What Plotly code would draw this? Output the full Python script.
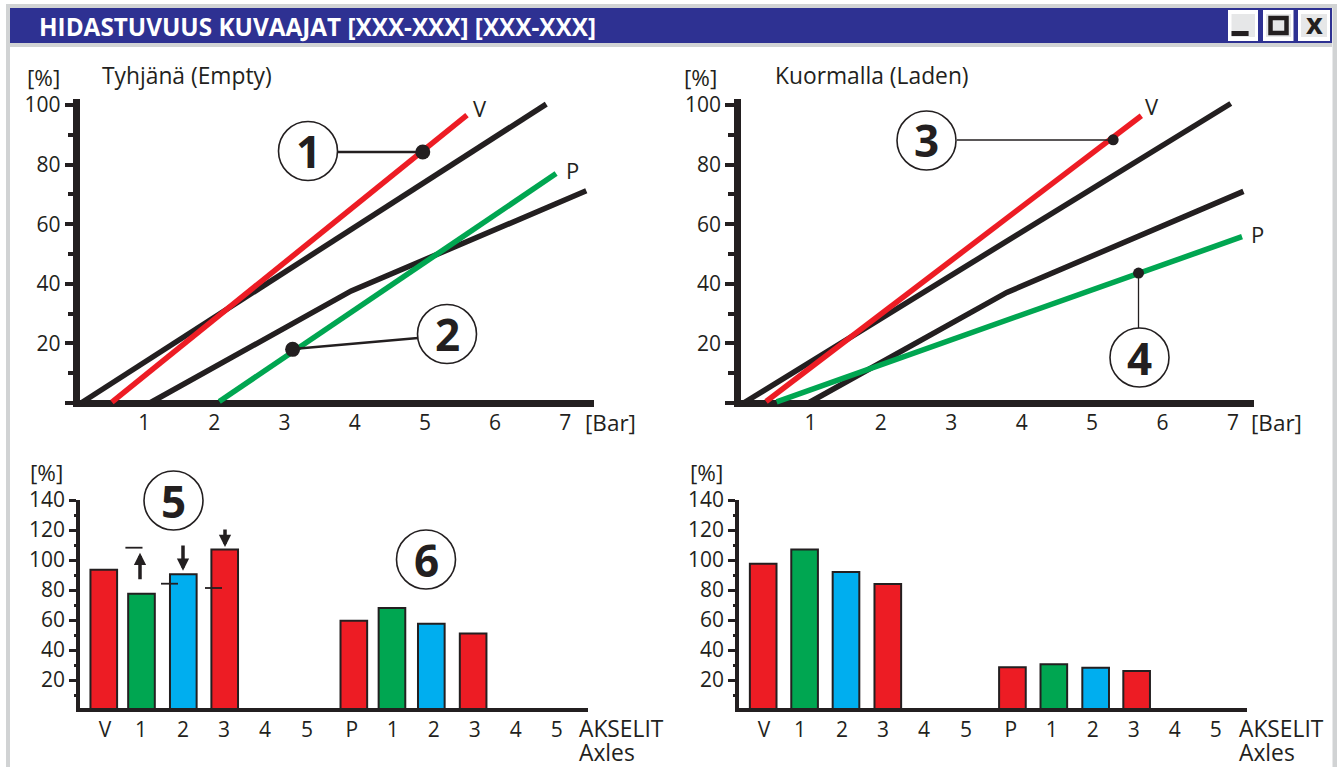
import plotly.graph_objects as go

# ---------- data ----------
title_text = "HIDASTUVUUS KUVAAJAT [XXX-XXX] [XXX-XXX]"
bar_ticks = [1, 2, 3, 4, 5, 6, 7]
pct_ticks = [0, 20, 40, 60, 80, 100]
pct_labels = ["", "20", "40", "60", "80", "100"]
pct_minor = [10, 30, 50, 70, 90]
bar_pct_ticks = [20, 40, 60, 80, 100, 120, 140]
bar_pct_minor = [10, 30, 50, 70, 90, 110, 130]
axle_labels = ["V", "1", "2", "3", "4", "5", "P", "1", "2", "3", "4", "5"]
axle_ticks = [0, 0.88, 1.9, 2.9, 3.9, 4.93, 6.02, 7.02, 8.02, 9.02, 10.02, 11.02]

empty_black1_x = [0.10, 6.73]
empty_black1_y = [0, 100.3]
empty_black2_x = [1.08, 3.95, 7.30]
empty_black2_y = [0, 37.6, 71.2]
empty_red_x = [0.54, 5.60]
empty_red_y = [0.3, 96.6]
empty_green_x = [2.07, 6.87]
empty_green_y = [0.5, 77.0]
empty_dots_x = [4.97, 3.115]
empty_dots_y = [84.2, 18.0]

laden_black1_x = [0.05, 6.97]
laden_black1_y = [0, 100.5]
laden_black2_x = [0.97, 3.79, 7.15]
laden_black2_y = [0, 37.1, 71.0]
laden_red_x = [0.37, 5.70]
laden_red_y = [0.5, 96.4]
laden_green_x = [0.52, 7.13]
laden_green_y = [0.4, 55.8]
laden_dots_x = [5.30, 5.66]
laden_dots_y = [88.3, 43.6]

left_bar_x = [-0.03, 0.89, 1.91, 2.92, 6.07, 7.0, 7.96, 8.98]
left_bar_y = [93.5, 77.5, 90.5, 107, 59.5, 68, 57.5, 51]
right_bar_x = [-0.02, 0.99, 2.0, 3.02, 6.06, 7.07, 8.09, 9.09]
right_bar_y = [97.5, 107, 92, 84, 28.5, 30.5, 28.2, 26]

# ---------- styles ----------
W, H = 1342, 767
INK = "#231F20"
RED = "#ED1C24"
GREEN = "#00A651"
BLUE = "#00AEEF"
NAVY = "#2E3192"
FRAME = "#D1D3D4"
FONT = "Open Sans"
TICK = 21
TEXT = 22.5
bar_colors = [RED, GREEN, BLUE, RED, RED, GREEN, BLUE, RED]


def xp(v):
    return v / W


def yp(v):
    return 1 - v / H


fig = go.Figure()


def line(x, y, color, ax, width=5.5):
    fig.add_trace(go.Scatter(x=x, y=y, mode="lines", xaxis=f"x{ax}", yaxis=f"y{ax}",
                             line=dict(color=color, width=width), cliponaxis=False,
                             showlegend=False, hoverinfo="skip"))


def dots(x, y, ax, sizes):
    fig.add_trace(go.Scatter(x=x, y=y, mode="markers", xaxis=f"x{ax}", yaxis=f"y{ax}",
                             marker=dict(color=INK, size=sizes), cliponaxis=False,
                             showlegend=False, hoverinfo="skip"))


line(empty_black1_x, empty_black1_y, INK, "")
line(empty_black2_x, empty_black2_y, INK, "")
line(empty_red_x, empty_red_y, RED, "")
line(empty_green_x, empty_green_y, GREEN, "")
dots(empty_dots_x, empty_dots_y, "", 15)

line(laden_black1_x, laden_black1_y, INK, 2)
line(laden_black2_x, laden_black2_y, INK, 2)
line(laden_red_x, laden_red_y, RED, 2)
line(laden_green_x, laden_green_y, GREEN, 2)
dots(laden_dots_x, laden_dots_y, 2, 11)

for bx, by, ax in ((left_bar_x, left_bar_y, 3), (right_bar_x, right_bar_y, 4)):
    fig.add_trace(go.Bar(x=bx, y=by, xaxis=f"x{ax}", yaxis=f"y{ax}", width=0.65,
                         marker=dict(color=bar_colors, line=dict(color=INK, width=2)),
                         showlegend=False, hoverinfo="skip"))


def line_axes(left, right, x_lo, x_hi):
    x = dict(domain=[xp(left), xp(right)], range=[x_lo, x_hi], tickmode="array",
             tickvals=bar_ticks, showgrid=False, showline=False, zeroline=False,
             ticks="", ticklabelstandoff=1, tickfont=dict(family=FONT, size=TICK, color=INK))
    y = dict(domain=[yp(406.5), yp(99)], range=[-1.17, 102], tickmode="array",
             tickvals=pct_ticks, ticktext=pct_labels, showgrid=False, showline=True,
             linecolor=INK, linewidth=6.5, zeroline=True, zerolinecolor=INK, zerolinewidth=6.5,
             ticks="outside", ticklen=9, tickwidth=3.5, tickcolor=INK,
             minor=dict(tickmode="array", tickvals=pct_minor, ticks="outside", ticklen=6,
                        tickwidth=3.5, tickcolor=INK),
             tickfont=dict(family=FONT, size=TICK, color=INK))
    return x, y


def bar_axes(left, right):
    x = dict(domain=[xp(left), xp(right)], range=[-0.61, 11.77], tickmode="array",
             tickvals=axle_ticks, ticktext=axle_labels, showgrid=False, showline=True,
             linecolor=INK, linewidth=3.5, zeroline=False, ticks="",
             tickfont=dict(family=FONT, size=TICK, color=INK))
    y = dict(domain=[yp(708), yp(500)], range=[1.33, 140], tickmode="array",
             tickvals=bar_pct_ticks, showgrid=False, showline=True, linecolor=INK,
             linewidth=3.5, zeroline=False, ticks="outside", ticklen=7, tickwidth=2.5,
             tickcolor=INK,
             minor=dict(tickmode="array", tickvals=bar_pct_minor, ticks="outside", ticklen=2,
                        tickwidth=2.5, tickcolor=INK),
             tickfont=dict(family=FONT, size=TICK, color=INK))
    return x, y


x1, y1 = line_axes(80.4, 594, 0.091, 7.41)
x2, y2 = line_axes(741, 1254, 0.014, 7.30)
x3, y3 = bar_axes(80, 587.5)
x4, y4 = bar_axes(739, 1246.5)
for a, b, n in ((x1, y1, ""), (x2, y2, "2"), (x3, y3, "3"), (x4, y4, "4")):
    a["anchor"] = f"y{n}"
    b["anchor"] = f"x{n}"
    fig.layout[f"xaxis{n}"] = a
    fig.layout[f"yaxis{n}"] = b


# ---------- window chrome and callouts (page furniture) ----------
def rect(x0, y0, x1_, y1_, fill, line_color=None, lw=0):
    return dict(type="rect", xref="paper", yref="paper", x0=xp(x0), x1=xp(x1_),
                y0=yp(y1_), y1=yp(y0), fillcolor=fill,
                line=dict(color=line_color or fill, width=lw), layer="below")


def seg(x0, y0, x1_, y1_, width=2.5, color=INK):
    return dict(type="line", xref="paper", yref="paper", x0=xp(x0), x1=xp(x1_),
                y0=yp(y0), y1=yp(y1_), line=dict(color=color, width=width))


shapes = [
    rect(6, 4, 1337, 767, FRAME),
    rect(10, 8, 1332.5, 767, "white"),
    rect(10, 8, 1332, 43, NAVY),
    rect(10, 43, 1332, 47, FRAME),
    rect(1228, 10, 1258, 41, "white"),
    rect(1231.5, 14, 1255, 37, "#E6E7E8"),
    rect(1231.5, 31, 1248.6, 36, INK),
    rect(1263, 10, 1293.5, 41, "white"),
    rect(1266, 14, 1291, 37, "#E6E7E8"),
    rect(1298, 10, 1330, 41, "white"),
    rect(1301, 14, 1327, 37, "#E6E7E8"),
]
m = rect(1270.5, 18, 1286.5, 33, "#E6E7E8", INK, 4.5)
shapes.append(m)

shapes += [
    seg(338, 152, 423, 152, 2.5),
    seg(418, 338, 293, 349, 2.5),
    seg(957, 140, 1113, 140, 1.3),
    seg(1138.5, 328, 1138.5, 273, 1.3),
    seg(125.4, 547.7, 142.5, 547.7, 1.8),
    seg(161, 583.7, 178, 583.7, 1.8),
    seg(205, 588, 222, 588, 1.8),
]
callouts = [("1", 308, 151), ("2", 447, 334), ("3", 926.5, 140.5), ("4", 1139.5, 357.5),
            ("5", 173.5, 500.5), ("6", 426, 559.5)]
R = 29.5
for _, cx, cy in callouts:
    shapes.append(dict(type="circle", xref="paper", yref="paper", x0=xp(cx - R), x1=xp(cx + R),
                       y0=yp(cy + R), y1=yp(cy - R), fillcolor="white",
                       line=dict(color=INK, width=1.6)))
fig.layout.shapes = shapes


def label(text, x, y, anchor="center", size=TEXT, bold=False, color=INK):
    if anchor == "left":
        x -= 3
    fig.add_annotation(text=f"<b>{text}</b>" if bold else text, xref="paper", yref="paper",
                       x=xp(x), y=yp(y), xanchor=anchor, yanchor="middle", showarrow=False,
                       font=dict(family=FONT, size=size, color=color))


label(title_text, 40, 27, "left", 24.3, True, "white")
label("x", 1314, 22, "center", 29, True)
label("[%]", 43, 78)
label("Tyhjänä (Empty)", 103, 75, "left", 22.8)
label("V", 479.5, 108, size=22)
label("P", 572, 170, size=22)
label("[Bar]", 586, 422, "left")
label("[%]", 700, 78)
label("Kuormalla (Laden)", 776, 75, "left", 22.8)
label("V", 1152, 106, size=22)
label("P", 1257, 234, size=22)
label("[Bar]", 1252, 422, "left")
label("[%]", 46, 472)
label("[%]", 706, 472)
for lx in (580, 1240):
    label("AKSELIT", lx, 728, "left", 22.8)
    label("Axles", lx, 752, "left", 22.8)
for text, cx, cy in callouts:
    label(text, cx, cy, "center", 44, True)

for ax_x, tip, tail in ((140, 552.7, 580.7), (183, 570.7, 544), (225, 547, 528)):
    fig.add_annotation(xref="paper", yref="paper", x=xp(ax_x), y=yp(tip), axref="pixel",
                       ayref="pixel", ax=0, ay=tail - tip, text="", showarrow=True, arrowhead=2,
                       arrowsize=0.7, arrowwidth=3.5, arrowcolor=INK, standoff=0, startstandoff=0)

fig.update_layout(width=W, height=H, margin=dict(l=0, r=0, t=0, b=0, autoexpand=False),
                  paper_bgcolor="white", plot_bgcolor="rgba(0,0,0,0)", showlegend=False,
                  barmode="overlay", font=dict(family=FONT, color=INK))

fig.write_html("out.html", config=dict(displayModeBar=False),
               post_script="document.body.style.margin='0';document.body.style.overflow='hidden';")
